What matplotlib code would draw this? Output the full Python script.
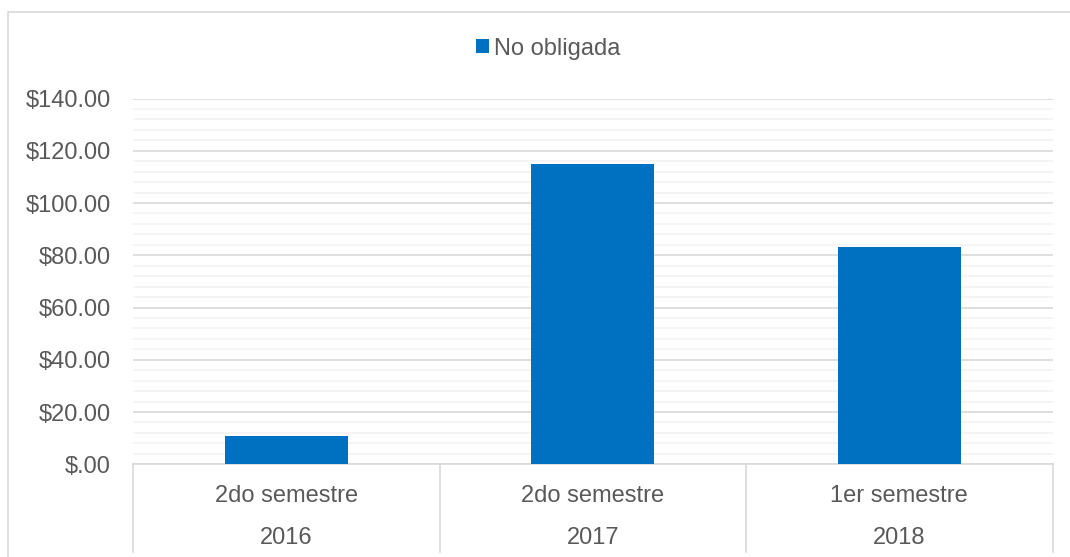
import numpy as np
import matplotlib.pyplot as plt
from matplotlib.patches import Rectangle
from matplotlib.ticker import MultipleLocator, FuncFormatter

plt.rcParams['font.family'] = ['Liberation Sans', 'DejaVu Sans']

# data
semestres = ['2do semestre', '2do semestre', '1er semestre']
anios = ['2016', '2017', '2018']
no_obligada = [10.8, 115.0, 83.1]

azul = '#0070C0'
gris_texto = '#595959'
fs = 17

fig = plt.figure(figsize=(10.7, 5.57), dpi=100)
ax = fig.add_axes([133 / 1070, 1 - 464.3 / 557, (1052.5 - 133) / 1070, (464.3 - 98.5) / 557])

# outer chart border (runs off the right and bottom edges)
fig.patches.append(Rectangle((7.5 / 1070, -0.1), 1.2, 1 - 11.7 / 557 + 0.1,
                             transform=fig.transFigure, fill=False,
                             edgecolor='#D9D9D9', linewidth=1.2))

x = np.arange(len(no_obligada))
ax.bar(x, no_obligada, width=0.4, color=azul, label='No obligada', zorder=3)

ax.set_xlim(-0.5, len(x) - 0.5)
ax.set_ylim(0, 140)
ax.yaxis.set_major_locator(MultipleLocator(20))
ax.yaxis.set_minor_locator(MultipleLocator(4))
ax.yaxis.set_major_formatter(FuncFormatter(lambda v, p: '$.00' if v == 0 else f'${v:.2f}'))
ax.grid(which='major', axis='y', color='#D9D9D9', linewidth=1.2, zorder=0)
ax.grid(which='minor', axis='y', color='#F2F2F2', linewidth=1.2, zorder=0)
ax.tick_params(axis='y', which='both', length=0, labelsize=fs, labelcolor=gris_texto, pad=16)
ax.set_xticks([])
for s in ['top', 'right', 'left']:
    ax.spines[s].set_visible(False)
ax.spines['bottom'].set_color('#D9D9D9')
ax.spines['bottom'].set_linewidth(1.2)

# two-level category axis
trans = ax.get_xaxis_transform()
for sep in np.arange(-0.5, len(x), 1.0):
    ax.plot([sep, sep], [0, -0.24], transform=trans, color='#D9D9D9',
            linewidth=1.2, clip_on=False)
for xi, sem, an in zip(x, semestres, anios):
    ax.text(xi, -0.087, sem, transform=trans, ha='center', va='center',
            fontsize=fs, color=gris_texto)
    ax.text(xi, -0.2015, an, transform=trans, ha='center', va='center',
            fontsize=fs, color=gris_texto)

leg = fig.legend(loc='center', bbox_to_anchor=(548 / 1070, 1 - 48.5 / 557),
                 frameon=False, fontsize=fs, handlelength=0.57, handleheight=0.57,
                 handletextpad=0.2, labelcolor=gris_texto)

fig.savefig('out.png', dpi=100)
